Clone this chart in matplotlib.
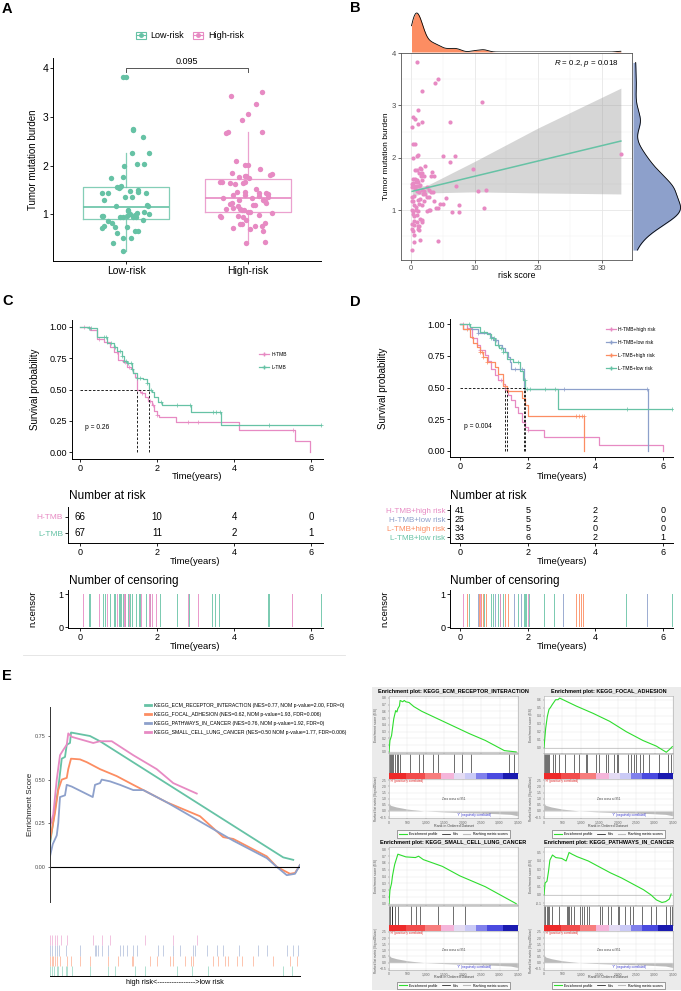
import numpy as np
import matplotlib
matplotlib.use("Agg")
import matplotlib.pyplot as plt
from matplotlib.lines import Line2D
from matplotlib.patches import Patch, Rectangle

plt.rcParams["font.family"] = ["Liberation Sans", "DejaVu Sans"]
plt.rcParams["mathtext.fontset"] = "custom"
plt.rcParams["mathtext.it"] = "Liberation Sans:italic"
plt.rcParams["mathtext.rm"] = "Liberation Sans"
plt.rcParams["axes.linewidth"] = 0.7
plt.rcParams["xtick.major.width"] = 0.6
plt.rcParams["ytick.major.width"] = 0.6
plt.rcParams["xtick.major.size"] = 2
plt.rcParams["ytick.major.size"] = 2
plt.rcParams["xtick.major.pad"] = 1.5
plt.rcParams["ytick.major.pad"] = 1.5

W, H = 681, 991
GREEN = "#66C2A5"
ORANGE = "#FC8D62"
BLUE = "#8DA0CB"
PINK = "#E78AC3"
ES_GREEN = "#2EDD2E"

# ---------------- data: panel A ----------------
groups_A = ["Low-risk", "High-risk"]
low_tmb = [3.82, 3.82, 2.76, 2.73, 2.59, 2.26, 2.26, 2.0, 2.03, 2.04, 1.77, 1.74, 1.55, 1.55,
           1.53, 1.58, 1.48, 1.50, 1.46, 1.44, 1.44, 1.44, 1.36, 1.36, 1.29, 1.18, 1.19, 1.16,
           1.09, 1.02, 1.05, 0.97, 0.97, 0.95, 0.95, 0.97, 0.99, 1.01, 0.94, 0.94, 1.0, 1.06,
           0.88, 0.86, 0.82, 0.75, 0.72, 0.73, 0.73, 0.66, 0.66, 0.62, 0.52, 0.52, 0.41, 0.24]
low_jit = [-0.022, 0, 0.054, 0.06, 0.142, 0.046, 0.19, -0.016, 0.093, 0.15, -0.027, -0.123,
           -0.046, -0.071, -0.057, -0.044, 0.033, 0.1, 0.098, -0.145, -0.197, 0.164, -0.008,
           0.046, -0.18, -0.085, 0.172, 0.183, 0.019, 0.093, 0.145, -0.186, -0.197, -0.049,
           -0.022, 0.005, 0.074, 0.035, 0.06, 0.082, 0.186, 0.014, 0.142, -0.145, -0.115,
           -0.18, -0.2, -0.09, 0.008, 0.077, 0.1, -0.077, -0.027, 0.044, -0.109, -0.027]
high_tmb = [3.51, 3.43, 3.27, 3.05, 2.93, 2.69, 2.66, 2.68, 2.1, 2.02, 2.02, 1.94, 1.85, 1.80,
            1.82, 1.77, 1.79, 1.78, 1.74, 1.66, 1.66, 1.65, 1.63, 1.64, 1.66, 1.51, 1.46, 1.46,
            1.40, 1.44, 1.41, 1.43, 1.38, 1.40, 1.33, 1.34, 1.36, 1.29, 1.29, 1.27, 1.24, 1.21,
            1.20, 1.20, 1.24, 1.16, 1.10, 1.12, 1.10, 1.09, 1.08, 1.05, 1.04, 1.03, 0.97, 0.94,
            0.97, 0.95, 0.99, 0.88, 0.83, 0.79, 0.79, 0.75, 0.69, 0.71, 0.65, 0.75, 0.42, 0.44]
high_jit = [0.117, -0.137, 0.068, 0, -0.046, 0.112, -0.177, -0.164, -0.101, -0.027, 0, 0.101,
            -0.128, 0.183, 0.196, -0.074, -0.027, -0.014, 0.008, -0.226, -0.21, -0.15, -0.104,
            -0.041, -0.025, 0.068, -0.09, -0.022, -0.027, 0.15, 0.164, 0.093, 0.09, -0.123,
            0.033, -0.202, 0.161, -0.074, 0.123, 0.137, -0.134, -0.145, 0.041, 0.055, 0.15,
            -0.079, -0.177, -0.123, -0.068, -0.052, -0.033, 0, 0.014, 0.2, -0.226, -0.218,
            -0.082, -0.038, 0.087, -0.014, 0.137, -0.068, -0.049, 0.057, 0.014, -0.12, 0.123,
            0.112, -0.014, 0.137]
# box statistics: whisker low, q1, median, q3, whisker high
low_box = [0.24, 0.91, 1.14, 1.55, 2.25]
high_box = [0.42, 1.05, 1.34, 1.72, 2.68]
p_A = "0.095"

# ---------------- data: panel B ----------------
risk_score = [1.04, 4.3, 3.8, 1.8, 11.2, 1.14, 0.26, 0.6, 1.76, 1.14, 0.2, 6.2, 0.4, 0.6, 1.1,
              0.95, 0.4, 7.0, 5.0, 6.2, 2.2, 9.8, 1.4, 1.6, 0.6, 1.0, 3.3, 1.2, 1.76, 1.6, 2.0,
              3.2, 3.6, 0.3, 0.6, 0.9, 0.4, 0.1, 0.85, 1.14, 1.5, 0.5, 0.9, 1.35, 7.1, 2.5, 2.8,
              1.7, 2.1, 3.2, 3.5, 1.0, 1.35, 2.8, 2.5, 10.5, 11.8, 0.5, 0.2, 1.9, 2.2, 5.5, 1.14,
              1.45, 3.7, 2.0, 0.1, 0.3, 4.6, 5.1, 7.6, 1.7, 1.35, 0.5, 0.8, 2.8, 2.5, 3.0, 4.0,
              4.3, 11.5, 6.4, 7.6, 0.1, 0.4, 0.8, 1.14, 0.26, 0.57, 0.93, 1.45, 1.8, 0.5, 0.93,
              1.7, 0.1, 0.5, 1.14, 1.35, 1.3, 1.14, 0.1, 0.3, 0.5, 1.45, 4.3, 0.5, 0.15, 33.0,
              0.7, 0.2, 1.8]
tmb_B = [3.82, 3.50, 3.42, 3.27, 3.06, 2.92, 2.77, 2.74, 2.68, 2.65, 2.58, 2.68, 2.27, 2.27,
         2.05, 2.03, 2.0, 2.03, 2.03, 1.92, 1.85, 1.79, 1.8, 1.79, 1.76, 1.76, 1.73, 1.71, 1.71,
         1.65, 1.65, 1.65, 1.65, 1.59, 1.59, 1.58, 1.51, 1.50, 1.53, 1.53, 1.48, 1.46, 1.46,
         1.47, 1.47, 1.45, 1.39, 1.39, 1.37, 1.34, 1.34, 1.36, 1.34, 1.26, 1.25, 1.36, 1.39,
         1.28, 1.25, 1.30, 1.31, 1.23, 1.20, 1.21, 1.17, 1.17, 1.17, 1.18, 1.12, 1.12, 1.10,
         1.10, 1.12, 1.09, 1.06, 1.0, 0.98, 1.0, 1.04, 1.04, 1.05, 0.97, 0.97, 1.01, 0.98, 1.0,
         0.98, 0.92, 0.89, 0.90, 0.83, 0.82, 0.79, 0.78, 0.77, 0.73, 0.72, 0.70, 0.69, 0.63,
         0.64, 0.64, 0.61, 0.53, 0.44, 0.42, 0.39, 0.24, 2.08, 1.42, 1.44, 1.58]
fit_x = [0.2, 33.0]
fit_y = [1.36, 2.32]
band_x = [0.2, 2.5, 10, 20, 33]
band_lo = [1.27, 1.33, 1.35, 1.33, 1.31]
band_hi = [1.45, 1.47, 1.93, 2.57, 3.33]
stat_B = r"$\it{R}$ = 0.2, $\it{p}$ = 0.018"

# ---------------- data: panel C ----------------
c_labels = ["H-TMB", "L-TMB"]
c_htmb_t = [0, 0.26, 0.43, 0.61, 0.78, 0.87, 0.99, 1.12, 1.21, 1.31, 1.38, 1.43, 1.47, 1.49,
            1.55, 1.60, 1.69, 1.77, 1.86, 1.92, 1.99, 2.06, 2.49, 4.13, 5.58, 5.97]
c_htmb_s = [1.0, 0.97, 0.90, 0.88, 0.84, 0.80, 0.735, 0.72, 0.68, 0.66, 0.63, 0.60, 0.55, 0.50,
            0.48, 0.47, 0.44, 0.41, 0.38, 0.33, 0.30, 0.28, 0.24, 0.18, 0.09, 0.0]
c_ltmb_t = [0, 0.22, 0.43, 0.69, 0.87, 0.97, 1.08, 1.14, 1.21, 1.34, 1.38, 1.47, 1.64, 1.73,
            1.79, 1.86, 1.92, 2.03, 2.12, 2.87, 3.66, 6.27]
c_ltmb_s = [1.0, 0.99, 0.92, 0.87, 0.84, 0.81, 0.77, 0.73, 0.71, 0.66, 0.63, 0.59, 0.58, 0.55,
            0.50, 0.48, 0.44, 0.40, 0.38, 0.32, 0.22, 0.22]
c_htmb_cens = [0.09, 0.50, 0.71, 0.97, 1.17, 1.28, 1.60, 1.82, 1.89, 1.99, 2.81, 3.07, 5.52]
c_ltmb_cens = [0.24, 0.28, 0.62, 0.67, 0.80, 0.91, 1.04, 1.08, 1.14, 1.19, 1.25, 1.31, 1.36,
               1.47, 1.56, 1.73, 1.83, 2.10, 2.53, 2.85, 3.44, 3.53, 3.63, 4.91, 6.27]
risk_times = [0, 2, 4, 6]
c_at_risk = [[66, 10, 4, 0], [67, 11, 2, 1]]
p_C = "p = 0.26"

# ---------------- data: panel D ----------------
d_labels = ["H-TMB+high risk", "H-TMB+low risk", "L-TMB+high risk", "L-TMB+low risk"]
d_hh_t = [0, 0.20, 0.34, 0.49, 0.59, 0.74, 0.84, 0.93, 1.03, 1.13, 1.26, 1.33, 1.43, 1.52,
          1.62, 1.72, 1.82, 1.92, 2.02, 2.48, 4.11, 6.0]
d_hh_s = [1, 0.97, 0.89, 0.84, 0.80, 0.76, 0.71, 0.65, 0.60, 0.56, 0.53, 0.48, 0.44, 0.40,
          0.35, 0.30, 0.23, 0.19, 0.166, 0.11, 0.05, 0.0]
d_hl_t = [0, 0.10, 0.54, 0.88, 0.98, 1.13, 1.23, 1.33, 1.43, 1.47, 1.52, 1.89, 5.56]
d_hl_s = [1, 0.96, 0.93, 0.90, 0.88, 0.84, 0.81, 0.78, 0.745, 0.705, 0.65, 0.49, 0.0]
d_lh_t = [0, 0.08, 0.29, 0.39, 0.49, 0.59, 0.69, 0.79, 1.03, 1.13, 1.28, 1.40, 1.82, 1.92,
          2.02, 3.67]
d_lh_s = [1, 0.96, 0.90, 0.85, 0.82, 0.78, 0.745, 0.705, 0.666, 0.61, 0.51, 0.47, 0.42, 0.36,
          0.28, 0.0]
d_ll_t = [0, 0.29, 0.59, 0.79, 0.93, 1.03, 1.16, 1.28, 1.38, 1.57, 1.77, 1.85, 1.93, 2.90, 6.29]
d_ll_s = [1, 0.98, 0.94, 0.92, 0.89, 0.84, 0.81, 0.78, 0.73, 0.705, 0.63, 0.56, 0.49, 0.33, 0.33]
d_hh_cens = [0.10, 0.60, 1.20, 2.02]
d_hl_cens = [0.54, 1.06, 1.62, 1.82, 3.07, 5.53]
d_lh_cens = [0.22, 0.59, 0.64, 0.69, 0.79, 1.33, 1.43, 3.44, 3.52, 3.59, 3.66]
d_ll_cens = [0.28, 0.71, 0.93, 1.00, 1.13, 1.20, 1.28, 1.72, 1.92, 1.97, 2.06, 2.51, 2.80,
             4.92, 6.27]
d_at_risk = [[41, 5, 2, 0], [25, 5, 2, 0], [34, 5, 0, 0], [33, 6, 2, 1]]
p_D = "p = 0.004"

# ---------------- data: panel E (combined plot, rank in % of list) ----------------
e_names = ["KEGG_ECM_RECEPTOR_INTERACTION (NES=0.77, NOM p-value=2.00, FDR=0)",
           "KEGG_FOCAL_ADHESION (NES=0.62, NOM p-value=1.93, FDR=0.006)",
           "KEGG_PATHWAYS_IN_CANCER (NES=0.76, NOM p-value=1.92, FDR=0)",
           "KEGG_SMALL_CELL_LUNG_CANCER (NES=0.50 NOM p-value=1.77, FDR=0.006)"]
ecm_pct = [0, 2.0, 3.3, 4.7, 6.0, 6.7, 8.0, 8.4, 16.0, 20.0, 93.3, 97.3]
ecm_es = [0.13, 0.33, 0.45, 0.62, 0.63, 0.70, 0.71, 0.77, 0.75, 0.72, 0.054, 0.04]
foc_pct = [0, 2.0, 3.3, 4.7, 6.7, 7.3, 8.4, 12.0, 14.7, 20.0, 26.7, 33.3, 38.7, 46.7, 60.0,
           69.3, 73.3, 86.7, 90.7, 96.0, 98.0, 100]
foc_es = [0.15, 0.31, 0.44, 0.50, 0.51, 0.56, 0.62, 0.616, 0.60, 0.56, 0.52, 0.47, 0.43, 0.37,
          0.29, 0.17, 0.16, 0.06, 0.0, -0.04, -0.035, 0.01]
pth_pct = [0, 1.1, 2.7, 3.3, 4.0, 6.0, 6.7, 8.7, 17.1, 18.0, 20.0, 20.7, 24.0, 28.0, 33.3,
           37.3, 46.7, 60.0, 73.3, 86.7, 90.7, 94.7, 98.0, 100]
pth_es = [0.06, 0.13, 0.18, 0.25, 0.40, 0.41, 0.47, 0.46, 0.40, 0.47, 0.48, 0.50, 0.49, 0.47,
          0.44, 0.44, 0.37, 0.26, 0.15, 0.05, 0.0, -0.048, -0.04, 0.01]
scl_pct = [0, 1.3, 2.7, 4.0, 5.3, 6.7, 7.3, 8.7, 17.3, 20.0, 24.7, 33.3, 42.7, 49.3, 58.7]
scl_es = [0.23, 0.30, 0.50, 0.64, 0.67, 0.70, 0.765, 0.745, 0.71, 0.72, 0.72, 0.64, 0.56,
          0.48, 0.42]
scl_hits = [0, 0.9, 2.0, 2.7, 4.4, 6.7, 17.1, 20.7, 24.0, 38.0, 49.3, 58.7]
pth_hits = [0, 0.7, 2.0, 2.9, 3.7, 6.4, 12.0, 18.0, 18.4, 19.3, 20.7, 23.3, 28.0, 29.1, 30.7,
            33.3, 34.9, 43.3, 45.3, 49.3, 52.0, 57.3, 58.0, 62.7, 66.7, 69.1, 75.7, 83.3, 86.7,
            94.7, 97.3, 99.3, 100]
foc_hits = [0, 0.7, 1.3, 2.0, 2.9, 4.0, 6.7, 8.3, 12.0, 16.0, 23.3, 27.3, 32.7, 33.3, 40.0,
            42.7, 48.0, 49.3, 54.0, 56.3, 57.3, 65.3, 67.3, 70.0, 71.3, 74.7, 76.7, 81.3, 89.3,
            96.0, 98.7, 100]
ecm_hits = [0, 0.7, 1.6, 2.7, 3.3, 4.7, 6.4, 6.7, 8.7, 16.0, 23.3, 26.0, 34.0, 38.0, 50.7,
            56.7, 63.3, 93.3, 96.7]

# ---------------- data: panel E (four GSEA plots, rank in genes) ----------------
g_ecm_rank = [0, 26, 69, 129, 181, 216, 241, 284, 302, 371, 414, 457, 543, 672, 888, 1319,
              1750, 2181, 2612, 2957, 3129, 3450]
g_ecm_es = [0, 0.17, 0.24, 0.49, 0.61, 0.59, 0.64, 0.68, 0.76, 0.74, 0.76, 0.74, 0.73, 0.67,
            0.60, 0.49, 0.38, 0.27, 0.17, 0.07, 0.02, 0.0]
g_foc_rank = [0, 45, 90, 136, 172, 226, 271, 316, 380, 425, 515, 651, 877, 1329, 1781, 2233,
              2685, 3047, 3318, 3409, 3481]
g_foc_es = [0.0, 0.24, 0.39, 0.48, 0.5, 0.54, 0.57, 0.6, 0.6, 0.62, 0.6, 0.57, 0.52, 0.43, 0.33,
            0.2, 0.09, 0.02, -0.057, -0.02, 0.013]
g_scl_rank = [0, 26, 69, 95, 129, 155, 241, 457, 716, 802, 931, 1190, 1448, 1922, 2612, 3450]
g_scl_es = [0, 0.2, 0.3, 0.41, 0.51, 0.58, 0.73, 0.69, 0.68, 0.70, 0.65, 0.60, 0.55, 0.41,
            0.25, 0.0]
g_pth_rank = [0, 30, 80, 120, 160, 230, 320, 480, 600, 680, 760, 900, 1200, 1500, 1800, 2100,
              2400, 2700, 2900, 3050, 3200, 3300, 3400, 3450]
g_pth_es = [0, 0.14, 0.16, 0.27, 0.41, 0.47, 0.44, 0.43, 0.40, 0.5, 0.48, 0.45, 0.40, 0.33,
            0.26, 0.2, 0.13, 0.06, 0.0, -0.06, -0.09, -0.08, -0.05, 0.01]
metric_rank = [0, 50, 200, 500, 951, 1500, 2200, 2900, 3300, 3500]
metric_val = [0.62, 0.45, 0.32, 0.15, 0.0, -0.08, -0.15, -0.22, -0.28, -0.40]
n_genes = 3500
cbar_edges = [0, 450, 970, 1400, 1750, 2050, 2350, 2650, 3080, 3500]
cbar_colors = ["#EE2A2A", "#F24C4C", "#F77D7D", "#F5B5DA", "#E4DCF4", "#CACAF6", "#8080EC",
               "#4A4AE0", "#1A1AB0"]
rank_ticks = [0, 500, 1000, 1500, 2000, 2500, 3000, 3500]
rank_ticklabels = ["0", "500", "1,000", "1,500", "2,000", "2,500", "3,000", "3,500"]

# ---------------- helpers ----------------
fig = plt.figure(figsize=(W / 100, H / 100), dpi=100)


def box(x0, y0, x1, y1):
    return fig.add_axes([x0 / W, 1 - y1 / H, (x1 - x0) / W, (y1 - y0) / H])


def ftext(x, y, s, **kw):
    return fig.text(x / W, 1 - y / H, s, **kw)


def set_ylab(ax, s, xpx, fs, **kw):
    p = ax.get_position()
    ax.set_ylabel(s, fontsize=fs, va="center", **kw)
    ax.yaxis.set_label_coords((xpx / W - p.x0) / p.width, 0.5)


def set_xlab(ax, s, ypx, fs, **kw):
    p = ax.get_position()
    ax.set_xlabel(s, fontsize=fs, va="center", **kw)
    ax.xaxis.set_label_coords(0.5, ((1 - ypx / H) - p.y0) / p.height)


def classic(ax):
    for sp in ["top", "right"]:
        ax.spines[sp].set_visible(False)
    ax.set_facecolor("none")


def kde(v, grid):
    v = np.asarray(v)
    n = len(v)
    iqr = np.subtract(*np.percentile(v, [75, 25]))
    bw = 0.9 * min(v.std(ddof=1), iqr / 1.34) * n ** -0.2
    z = (grid[:, None] - v[None, :]) / bw
    return np.exp(-0.5 * z ** 2).sum(1) / (n * bw * np.sqrt(2 * np.pi))


# background of the GSEA block (drawn behind axes)
fig.add_artist(Rectangle((372 / W, 1 - 990 / H), (681 - 372) / W, (990 - 687) / H,
                         transform=fig.transFigure, facecolor="#EBEBEB", edgecolor="none",
                         zorder=-5))
fig.add_artist(Line2D([23 / W, 345 / W], [1 - 655 / H, 1 - 655 / H],
                      transform=fig.transFigure, color="#E2E2E2", lw=0.6))

for lab, x, y in [("A", 2, 9), ("B", 350, 8), ("C", 2, 301), ("D", 350, 302), ("E", 2, 676)]:
    ftext(x, y, lab, fontsize=10.5, fontweight="bold", va="center", ha="left")

# ---------------- panel A ----------------
axA = box(53, 58, 321, 261)
classic(axA)
for i, (vals, jit, col, st) in enumerate([(low_tmb, low_jit, GREEN, low_box),
                                          (high_tmb, high_jit, PINK, high_box)]):
    axA.bxp([dict(whislo=st[0], q1=st[1], med=st[2], q3=st[3], whishi=st[4], fliers=[])],
            positions=[i + 1], widths=0.7, showcaps=False, patch_artist=False,
            boxprops=dict(color=col, lw=0.9, alpha=0.8),
            whiskerprops=dict(color=col, lw=0.9, alpha=0.8),
            medianprops=dict(color=col, lw=1.2))
    axA.scatter(i + 1 + np.array(jit), vals, s=15, color=col, lw=0, zorder=3)
axA.plot([1, 1, 2, 2], [3.93, 4.0, 4.0, 3.93], color="#555555", lw=0.7)
axA.text(1.5, 4.05, p_A, ha="center", va="bottom", fontsize=6.5)
axA.set_xlim(0.4, 2.6)
axA.set_ylim(0.04, 4.21)
axA.set_xticks([1, 2])
axA.set_xticklabels(groups_A)
axA.set_yticks([1, 2, 3, 4])
axA.tick_params(labelsize=7.5)
set_ylab(axA, "Tumor mutation burden", 33, 7)
hA = [(Patch(facecolor="white", edgecolor=GREEN, lw=0.8),
       Line2D([], [], color=GREEN, marker="o", ms=2.5, lw=0.8)),
      (Patch(facecolor="white", edgecolor=PINK, lw=0.8),
       Line2D([], [], color=PINK, marker="o", ms=2.5, lw=0.8))]
fig.legend(hA, groups_A, loc="center", bbox_to_anchor=(190 / W, 1 - 36 / H), ncol=2,
           frameon=False, fontsize=6.5, handlelength=1.1, handleheight=0.9,
           columnspacing=1.0, handletextpad=0.5)

# ---------------- panel B ----------------
axB = box(401, 53, 632, 260)
axB.set_xlim(-1.55, 34.75)
axB.set_ylim(0.05, 4.0)
axB.set_xticks([0, 10, 20, 30])
axB.set_xticks([5, 15, 25], minor=True)
axB.set_yticks([1, 2, 3, 4])
axB.set_yticks([0.5, 1.5, 2.5, 3.5], minor=True)
axB.grid(which="major", color="#E6E6E6", lw=0.6)
axB.grid(which="minor", color="#F2F2F2", lw=0.35)
axB.set_axisbelow(True)
axB.tick_params(which="minor", length=0)
axB.tick_params(labelsize=5.5, colors="#4D4D4D")
for sp in axB.spines.values():
    sp.set_color("#555555")
    sp.set_linewidth(0.6)
axB.scatter(risk_score, tmb_B, s=9, color=PINK, lw=0, zorder=3)
axB.fill_between(band_x, band_lo, band_hi, color="#999999", alpha=0.4, lw=0, zorder=2)
axB.plot(fit_x, fit_y, color=GREEN, lw=1.1, zorder=4)
axB.text(0.944, 0.947, stat_B, transform=axB.transAxes, ha="right", va="center", fontsize=5.7)
set_ylab(axB, "Tumor mutation burden", 387, 6)
set_xlab(axB, "risk score", 276, 6.2)

axBt = box(401, 5, 632, 52)
gx = np.linspace(min(risk_score), max(risk_score), 400)
dx = kde(risk_score, gx)
axBt.fill_between(gx, 0, dx, color=ORANGE, lw=0)
axBt.plot(gx, dx, color="black", lw=0.6)
axBt.set_xlim(axB.get_xlim())
axBt.set_ylim(0, dx.max() * 47 / 39)
axBt.axis("off")

# marginal density of the tumour mutation burden (all samples of panel A)
tmb_all = low_tmb + high_tmb
axBr = box(633, 53, 681, 260)
gy = np.linspace(min(tmb_all), max(tmb_all), 400)
dy = kde(tmb_all, gy)
axBr.fill_betweenx(gy, 0, dy, color=BLUE, lw=0)
axBr.plot(dy, gy, color="black", lw=0.6)
axBr.set_ylim(axB.get_ylim())
axBr.set_xlim(0, dy.max() * 1.01)
axBr.axis("off")


# ---------------- survival panels ----------------
def km_panel(ax, curves):
    meds = []
    for t, s, col, cens in curves:
        t = np.asarray(t)
        s = np.asarray(s)
        ax.step(t, s, where="post", color=col, lw=0.9)
        idx = np.searchsorted(t, cens, side="right") - 1
        ax.plot(cens, s[idx], "+", color=col, ms=2.6, mew=0.5)
        meds.append(t[np.argmax(s <= 0.5)])
    ax.plot([0, max(meds)], [0.5, 0.5], "--", color="black", lw=0.6, dashes=(3, 2))
    for m in meds:
        ax.plot([m, m], [0, 0.5], "--", color="black", lw=0.6, dashes=(3, 2))
    classic(ax)
    ax.set_xticks(risk_times)
    ax.set_yticks([0, 0.25, 0.5, 0.75, 1.0])
    ax.set_yticklabels(["0.00", "0.25", "0.50", "0.75", "1.00"])
    ax.tick_params(labelsize=6.5)


def risk_table(ax, labels, counts, cols, fs, nfs, xlim, ylim):
    for i, row in enumerate(counts):
        for tt, n in zip(risk_times, row):
            ax.text(tt, i, str(n), ha="center", va="center", fontsize=nfs)
    classic(ax)
    ax.set_xlim(xlim)
    ax.set_ylim(ylim)
    ax.set_xticks(risk_times)
    ax.set_yticks(range(len(labels)))
    ax.set_yticklabels(labels)
    ax.tick_params(axis="y", labelsize=fs)
    ax.tick_params(axis="x", labelsize=6.5)
    for lb, c in zip(ax.get_yticklabels(), cols):
        lb.set_color(c)


def censor_panel(ax, groups, xlim):
    for cens, col in groups:
        ax.bar(cens, np.ones(len(cens)), width=0.03, color=col, alpha=0.85, lw=0)
    classic(ax)
    ax.set_xlim(xlim)
    ax.set_ylim(-0.02, 1.12)
    ax.set_xticks(risk_times)
    ax.set_yticks([0, 1])
    ax.tick_params(labelsize=6.5)


# panel C
xlimC = (-0.31, 6.31)
axC = box(72, 320, 323, 459)
km_panel(axC, [(c_htmb_t, c_htmb_s, PINK, c_htmb_cens), (c_ltmb_t, c_ltmb_s, GREEN, c_ltmb_cens)])
axC.set_xlim(-0.21, 6.31)
axC.set_ylim(-0.053, 1.053)
axC.text(0.13, 0.196, p_C, fontsize=4.8, ha="left", va="center")
set_ylab(axC, "Survival probability", 35, 7)
set_xlab(axC, "Time(years)", 476.7, 6.8)
hC = [Line2D([], [], color=PINK, marker="+", ms=2.5, lw=0.9),
      Line2D([], [], color=GREEN, marker="+", ms=2.5, lw=0.9)]
fig.legend(hC, c_labels, loc="upper left", bbox_to_anchor=(254 / W, 1 - 347 / H),
           frameon=False, fontsize=3.6, handlelength=2.0, labelspacing=1.6, handletextpad=0.6)

axCt = box(68, 507, 323, 543.3)
risk_table(axCt, c_labels, c_at_risk, [PINK, GREEN], 6, 7, xlimC, (1.61, -0.58))
set_xlab(axCt, "Time(years)", 561.7, 6.8)
ftext(69, 496, "Number at risk", fontsize=8.5, va="center", ha="left")

axCc = box(68, 590, 323, 628)
censor_panel(axCc, [(c_ltmb_cens, GREEN), (c_htmb_cens, PINK)], xlimC)
set_ylab(axCc, "n.censor", 33, 6.8)
set_xlab(axCc, "Time(years)", 646.7, 6.8)
ftext(69, 581, "Number of censoring", fontsize=8.5, va="center", ha="left")

# panel D
xlimD = (-0.295, 6.30)
d_cols = [PINK, BLUE, ORANGE, GREEN]
axD = box(450, 319, 673.3, 457.3)
km_panel(axD, [(d_hh_t, d_hh_s, PINK, d_hh_cens), (d_hl_t, d_hl_s, BLUE, d_hl_cens),
               (d_lh_t, d_lh_s, ORANGE, d_lh_cens), (d_ll_t, d_ll_s, GREEN, d_ll_cens)])
axD.set_xlim(xlimD)
axD.set_ylim(-0.05, 1.042)
axD.text(0.12, 0.195, p_D, fontsize=4.8, ha="left", va="center")
set_ylab(axD, "Survival probability", 383, 7)
set_xlab(axD, "Time(years)", 476.7, 6.8)
hD = [Line2D([], [], color=c, marker="+", ms=2.5, lw=0.9) for c in d_cols]
fig.legend(hD, d_labels, loc="upper left", bbox_to_anchor=(601 / W, 1 - 322 / H),
           frameon=False, fontsize=3.6, handlelength=2.0, labelspacing=1.6, handletextpad=0.6)

axDt = box(450, 505, 673.3, 543.3)
risk_table(axDt, d_labels, d_at_risk, d_cols, 5.8, 6.5, xlimD, (3.65, -0.55))
set_xlab(axDt, "Time(years)", 561.7, 6.8)
ftext(450, 496, "Number at risk", fontsize=8.5, va="center", ha="left")

axDc = box(450, 590, 673.3, 628)
censor_panel(axDc, [(d_ll_cens, GREEN), (d_lh_cens, ORANGE), (d_hl_cens, BLUE),
                    (d_hh_cens, PINK)], xlimD)
set_ylab(axDc, "n.censor", 385, 6.8)
set_xlab(axDc, "Time(years)", 646.7, 6.8)
ftext(450, 581, "Number of censoring", fontsize=8.5, va="center", ha="left")

# ---------------- panel E, combined enrichment plot ----------------
axE = box(50, 706.7, 300, 901.7)
axE.set_facecolor("none")
for pct, es, col in [(ecm_pct, ecm_es, GREEN), (foc_pct, foc_es, ORANGE),
                     (pth_pct, pth_es, BLUE), (scl_pct, scl_es, PINK)]:
    axE.plot(pct, es, color=col, lw=1.3, solid_joinstyle="round")
axE.axhline(0, color="black", lw=0.8)
axE.set_xlim(0, 100)
axE.set_ylim(-0.2, 0.918)
for sp in ["top", "right", "bottom"]:
    axE.spines[sp].set_visible(False)
axE.spines["left"].set_color("#333333")
axE.set_xticks([])
axE.set_yticks([0, 0.25, 0.5, 0.75])
axE.set_yticklabels(["0.00", "0.25", "0.50", "0.75"])
axE.tick_params(axis="y", labelsize=4, colors="#4D4D4D", length=1.5)
set_ylab(axE, "Enrichment Score", 30, 5.8, color="#222222")
hE = [Line2D([], [], color=c, lw=2) for c in [GREEN, ORANGE, BLUE, PINK]]
fig.legend(hE, e_names, loc="upper left", bbox_to_anchor=(140 / W, 1 - 698.5 / H),
           frameon=False, fontsize=3.7, handlelength=1.2, labelspacing=0.78, handletextpad=0.6)

axR = box(50, 935, 300, 976)
axR.set_facecolor("none")
for row, (hits, col) in enumerate([(ecm_hits, GREEN), (foc_hits, ORANGE),
                                   (pth_hits, BLUE), (scl_hits, PINK)]):
    axR.vlines(hits, row, row + 1, color=col, lw=0.6, alpha=0.6)
axR.set_xlim(0, 100)
axR.set_ylim(0, 4)
for sp in ["top", "right", "left"]:
    axR.spines[sp].set_visible(False)
axR.spines["bottom"].set_color("black")
axR.set_xticks([])
axR.set_yticks([])
ftext(175, 982, "high risk<---------------->low risk", fontsize=5.2, ha="center", va="center")


# ---------------- panel E, four GSEA plots ----------------
def gsea_small(x0, x1, ty, title, rank, es, hits, ylim, yticks):
    ftext((x0 + x1) / 2, ty, title, fontsize=4, fontweight="bold", ha="center", va="center")
    a1 = box(x0, ty + 4.7, x1, ty + 62.3)
    a1.plot(rank, es, color=ES_GREEN, lw=0.8, zorder=3)
    a1.axhline(0, color="#AAAAAA", lw=0.4)
    a1.set_xlim(0, n_genes)
    a1.set_ylim(ylim)
    a1.set_xticks(rank_ticks)
    a1.set_xticklabels([])
    a1.set_yticks(yticks)
    a1.set_yticklabels(["%.1f" % v for v in yticks])
    a1.grid(color="#E4E4E4", lw=0.3)
    a1.tick_params(labelsize=2.4, colors="#666666", length=0.8, pad=0.8, width=0.3)
    for sp in a1.spines.values():
        sp.set_color("#AAAAAA")
        sp.set_linewidth(0.4)
    set_ylab(a1, "Enrichment score (ES)", x0 - 13, 2.4, color="#555555")

    a2 = box(x0, ty + 63.3, x1, ty + 82.3)
    a2.vlines(np.array(hits) / 100 * n_genes, 0, 1, color="black", lw=0.4)
    a2.set_xlim(0, n_genes)
    a2.set_ylim(0, 1)
    a2.set_xticks([])
    a2.set_yticks([])
    for sp in a2.spines.values():
        sp.set_color("#AAAAAA")
        sp.set_linewidth(0.4)

    a3 = box(x0, ty + 82.3, x1, ty + 88)
    for j, c in enumerate(cbar_colors):
        a3.axvspan(cbar_edges[j], cbar_edges[j + 1], color=c, lw=0)
    a3.set_xlim(0, n_genes)
    a3.axis("off")

    a4 = box(x0, ty + 88, x1, ty + 127.3)
    a4.fill_between(metric_rank, 0, metric_val, color="#BBBBBB", lw=0)
    a4.set_xlim(0, n_genes)
    a4.set_ylim(-0.6, 2.6)
    a4.set_xticks(rank_ticks)
    a4.set_xticklabels(rank_ticklabels)
    a4.set_yticks([2.5, 2.0, 1.5, 1.0, 0.5, 0.0, -0.5])
    a4.grid(color="#E4E4E4", lw=0.3)
    a4.tick_params(labelsize=2.4, colors="#666666", length=0.8, pad=0.8, width=0.3)
    for sp in a4.spines.values():
        sp.set_color("#AAAAAA")
        sp.set_linewidth(0.4)
    a4.text(30, 2.45, "'H' (positively correlated)", color="#DD2222", fontsize=2.2, va="center")
    a4.text(1750, 1.0, "Zero cross at 951", fontsize=2.2, ha="center", va="center",
            color="#444444")
    a4.text(2300, -0.32, "'Y' (negatively correlated)", color="#3333CC", fontsize=2.2,
            ha="center", va="center")
    set_ylab(a4, "Ranked list metric (Signal2Noise)", x0 - 13, 2.2, color="#555555")
    set_xlab(a4, "Rank in Ordered Dataset", ty + 134.7, 2.6, color="#444444")
    hs = [Line2D([], [], color=ES_GREEN, lw=0.8), Line2D([], [], color="black", lw=0.5),
          Line2D([], [], color="#BBBBBB", lw=0.8)]
    lg = a4.legend(hs, ["Enrichment profile", "Hits", "Ranking metric scores"], loc="center",
                   bbox_to_anchor=(0.5, -(ty + 143 - (ty + 127.3)) / 39.3), ncol=3,
                   fontsize=2.5, frameon=True, fancybox=False, handlelength=2.2,
                   columnspacing=1.2, borderpad=0.5)
    lg.get_frame().set_edgecolor("#333333")
    lg.get_frame().set_linewidth(0.4)


gsea_small(389, 518, 691, "Enrichment plot: KEGG_ECM_RECEPTOR_INTERACTION",
           g_ecm_rank, g_ecm_es, ecm_hits, (-0.02, 0.83), [0.0, 0.1, 0.2, 0.3, 0.4, 0.5, 0.6, 0.7, 0.8])
gsea_small(544, 673, 691, "Enrichment plot: KEGG_FOCAL_ADHESION",
           g_foc_rank, g_foc_es, foc_hits, (-0.07, 0.65), [0.0, 0.1, 0.2, 0.3, 0.4, 0.5, 0.6])
gsea_small(389, 518, 842.7, "Enrichment plot: KEGG_SMALL_CELL_LUNG_CANCER",
           g_scl_rank, g_scl_es, scl_hits, (-0.02, 0.83), [0.0, 0.1, 0.2, 0.3, 0.4, 0.5, 0.6, 0.7, 0.8])
gsea_small(544, 673, 842.7, "Enrichment plot: KEGG_PATHWAYS_IN_CANCER",
           g_pth_rank, g_pth_es, pth_hits, (-0.12, 0.56), [-0.1, 0.0, 0.1, 0.2, 0.3, 0.4, 0.5])

fig.savefig("out.png", dpi=100)
